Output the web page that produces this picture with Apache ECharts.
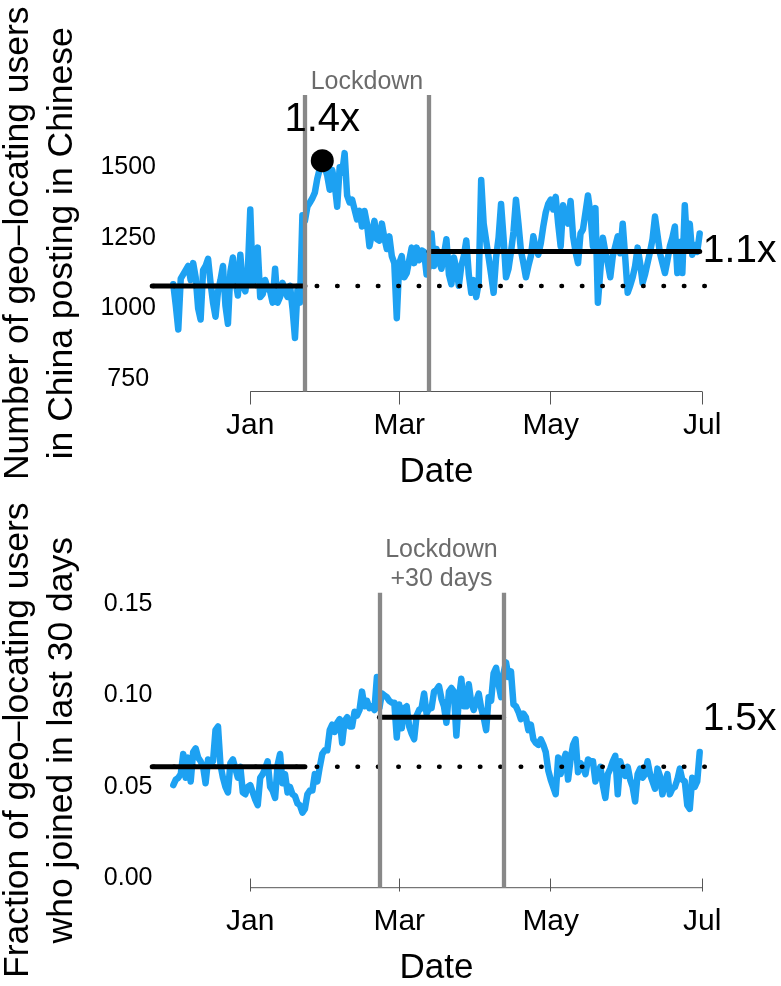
<!DOCTYPE html>
<html><head><meta charset="utf-8">
<script src="https://cdn.jsdelivr.net/npm/echarts@6/dist/echarts.min.js"></script>
<style>html,body{margin:0;padding:0;background:#fff}#c{width:781px;height:986px}</style>
</head><body><div id="c"></div>
<script>
// ---------------- data ----------------
const startDate = '2019-12-01';            // first daily value, one value per day
const topValues = [
 1085,1010,925,1105,1120,1135,1150,1100,1160,1110,1000,960,1135,1150,1175,1090,1020,970,1060,1100,1150,1010,945,1130,1180,1100,1045,1190,1080,1060,1130,
 1350,1090,1120,1215,1040,1050,1100,1070,1060,1020,1140,1020,1040,1090,1060,1040,1080,1000,895,1065,1020,1330,1310,1360,1375,1390,1410,1460,1495,1530,1500,
 1470,1420,1490,1440,1360,1500,1480,1550,1400,1375,1385,1350,1315,1345,1290,1345,1300,1220,1265,1310,1245,1240,1300,1250,1210,1255,1185,1160,965,
 1160,1185,1110,1125,1170,1215,1160,1215,1170,1205,1200,1120,
 1150,1265,1150,1210,1170,1140,1190,1245,1120,1085,
 1180,1140,1080,1150,1185,1240,1120,1055,1100,1040,
 1090,1455,1300,1240,1180,1120,1055,1180,1250,1370,
 1250,1110,1140,1200,1270,1385,1300,1205,1160,1110,
 1150,1185,1255,1210,1190,1230,1290,1340,1370,1385,
 1350,1395,1300,1220,1365,1320,1300,1380,1255,1200,
 1160,1265,1280,1340,1400,1335,1220,1355,1020,1135,
 1250,1200,1160,1110,1185,1220,1255,1195,1300,1180,
 1055,1080,1110,1150,1215,1160,1090,1120,1160,1200,
 1245,1325,1260,1195,1160,1125,1170,1220,1250,1290,
 1125,1235,1125,1365,1210,1300,1190,1225,1200,1265
];
const bottomValues = [
 0.051,0.054,0.055,0.057,0.068,0.055,0.066,0.053,0.069,0.071,
 0.066,0.064,0.061,0.052,0.065,0.063,0.064,0.081,0.083,0.062,
 0.055,0.050,0.047,0.063,0.065,0.060,0.055,0.061,0.047,0.046,
 0.050,0.051,0.047,0.043,0.040,0.055,0.057,0.060,0.064,0.050,
 0.048,0.044,0.062,0.068,0.052,0.057,0.047,0.050,0.046,0.045,
 0.041,0.040,0.036,0.038,0.046,0.048,0.048,0.057,0.053,0.061,
 0.068,0.070,0.070,0.081,0.084,0.080,0.085,0.087,0.074,0.086,
 0.088,0.083,0.083,0.091,0.089,0.092,0.102,0.094,0.097,0.093,
 0.094,0.092,0.110,0.093,0.101,0.100,0.099,0.097,0.096,0.096,
 0.077,0.095,0.082,0.093,0.094,0.083,0.079,0.076,0.089,0.092,
 0.093,0.101,0.090,0.093,0.093,0.102,0.103,0.105,0.098,0.094,
 0.085,0.102,0.104,0.102,0.078,0.098,0.109,0.094,0.094,0.106,
 0.096,0.092,0.097,0.101,0.093,0.088,0.081,0.099,0.097,0.112,
 0.115,0.106,0.099,0.112,0.118,0.110,0.113,0.095,0.094,0.091,
 0.087,0.090,0.088,0.081,0.084,0.076,0.074,0.073,0.076,0.073,
 0.069,0.059,0.054,0.050,0.046,0.066,0.057,0.064,0.068,0.054,
 0.065,0.073,0.076,0.058,0.063,0.061,0.057,0.065,0.064,0.064,
 0.053,0.058,0.061,0.051,0.044,0.057,0.060,0.064,0.067,0.046,
 0.064,0.059,0.056,0.061,0.054,0.050,0.042,0.057,0.060,0.055,
 0.057,0.064,0.057,0.053,0.049,0.060,0.056,0.046,0.052,0.057,
 0.046,0.049,0.050,0.054,0.060,0.054,0.053,0.040,0.038,0.055,
 0.050,0.053,0.069
];
const monthTicks  = ['2020-01-01','2020-03-01','2020-05-01','2020-07-01'];
const monthLabels = ['Jan','Mar','May','Jul'];
const lockdown    = ['2020-01-23','2020-03-13'];
const lockdown30  = ['2020-02-22','2020-04-12'];
const topYTicks    = [750, 1000, 1250, 1500];
const bottomYTicks = [0.00, 0.05, 0.10, 0.15];
const topYRange    = [705, 1756];
const bottomYRange = [-0.005, 0.156];
const xRange = ['2019-11-22T12:00:00Z', '2020-07-08T12:00:00Z'];
const topPreMean = 1079, topPostMean = 1201;
const topPeak = ['2020-01-30', 1523];
const bottomPreMean = 0.061, bottomMidMean = 0.088;
const labelPeak = '1.4x', labelPost = '1.1x', labelBottom = '1.5x';
const topYTitle = 'Number of geo\u2013locating users\nin China posting in Chinese';
const bottomYTitle = 'Fraction of geo\u2013locating users\nwho joined in last 30 days';
const lockdownText = 'Lockdown', lockdown30Text = 'Lockdown\n+30 days';

// ---------------- chart ----------------
const DAY = 86400000;
const t = s => Date.parse(s.length === 10 ? s + 'T00:00:00Z' : s);
const dates = topValues.map((_, i) => t(startDate) + i * DAY);
const lastDate = dates[dates.length - 1];
const xMin = t(xRange[0]), xMax = t(xRange[1]);
const tickTimes = monthTicks.map(t);
const FONT = '"Liberation Sans", Arial, Helvetica, sans-serif';
const BLUE = '#1DA1F2', GREY = '#888888';

function xAxisCfg(gridIndex) {
  return {
    type: 'value', gridIndex, min: xMin, max: xMax, scale: true,
    axisLine: { show: false }, splitLine: { show: false },
    axisTick: { show: true, customValues: tickTimes, length: 13, lineStyle: { color: '#555', width: 1 } },
    axisLabel: {
      customValues: tickTimes, margin: 34, fontSize: 30, color: '#000', fontFamily: FONT, verticalAlign: 'middle',
      formatter: v => { const i = tickTimes.findIndex(x => Math.abs(x - v) < DAY / 2); return i >= 0 ? monthLabels[i] : ''; }
    },
    name: 'Date', nameLocation: 'middle', nameGap: 80.5,
    nameTextStyle: { fontSize: 35, color: '#000', fontFamily: FONT, verticalAlign: 'middle' }
  };
}
function yAxisCfg(gridIndex, range, ticks, title, fmt) {
  return {
    type: 'value', gridIndex, min: range[0], max: range[1],
    axisLine: { show: false }, axisTick: { show: false }, splitLine: { show: false },
    axisLabel: { customValues: ticks, formatter: fmt, align: 'center', margin: 24, fontSize: 25, color: '#000', fontFamily: FONT },
    name: title, nameLocation: 'middle', nameRotate: 90, nameGap: 111.5,
    nameTextStyle: { fontSize: 35.5, lineHeight: 44, color: '#000', fontFamily: FONT, align: 'center', verticalAlign: 'middle' }
  };
}
function seg(gi, pts, style, extra) {
  return Object.assign({
    type: 'line', xAxisIndex: gi, yAxisIndex: gi, data: pts, symbol: 'none', silent: true,
    lineStyle: style, z: 4
  }, extra || {});
}
function lockSeries(gi, range, text, lh, dist) {
  return {
    type: 'line', xAxisIndex: gi, yAxisIndex: gi, data: [], silent: true, z: 3,
    markLine: {
      symbol: ['none', 'none'], silent: true, animation: false,
      label: { show: false },
      lineStyle: { color: GREY, width: 4.3, type: 'solid', opacity: 1 },
      data: [{ xAxis: t(range[0]) }, { xAxis: t(range[1]) }]
    },
    markArea: {
      silent: true, itemStyle: { color: 'rgba(0,0,0,0)' },
      label: { show: true, position: 'top', formatter: text, color: '#6b6b6b', fontSize: 25, lineHeight: lh, distance: dist, fontFamily: FONT },
      data: [[{ xAxis: t(range[0]) }, { xAxis: t(range[1]) }]]
    }
  };
}
const dotStyle = { color: '#000', width: 4.5, type: [0.5, 19.9], cap: 'round', dashOffset: -1.3 };
const meanStyle = { color: '#000', width: 5, cap: 'round' };
const axisStyle = { color: '#555', width: 1 };
const bigLabel = { color: '#000', fontFamily: FONT, fontSize: 39, opacity: 1 };

const option = {
  animation: false,
  textStyle: { fontFamily: FONT },
  grid: [
    { left: 152.2, right: 60.2, top: 95, height: 296.5, outerBoundsMode: 'none', containLabel: false },
    { left: 152.2, right: 60.2, top: 592.7, height: 295, outerBoundsMode: 'none', containLabel: false }
  ],
  xAxis: [xAxisCfg(0), xAxisCfg(1)],
  yAxis: [
    yAxisCfg(0, topYRange, topYTicks, topYTitle, v => String(v)),
    yAxisCfg(1, bottomYRange, bottomYTicks, bottomYTitle, v => Number(v).toFixed(2))
  ],
  series: [
    // top panel
    { type: 'line', xAxisIndex: 0, yAxisIndex: 0, data: dates.map((d, i) => [d, topValues[i]]), symbol: 'none', silent: true,
      lineStyle: { color: BLUE, width: 6.5, join: 'round', cap: 'round' }, z: 2 },
    lockSeries(0, lockdown, lockdownText, 24, 1),
    seg(0, [[xMin, topPreMean], [xMax, topPreMean]], dotStyle),
    seg(0, [[xMin, topPreMean], [t(lockdown[0]), topPreMean]], meanStyle),
    seg(0, [[t(lockdown[1]), topPostMean], [lastDate, topPostMean]], meanStyle,
      { endLabel: Object.assign({ show: true, formatter: labelPost, distance: 3 }, bigLabel) }),
    { type: 'scatter', xAxisIndex: 0, yAxisIndex: 0, data: [[t(topPeak[0]), topPeak[1]]], symbolSize: 23, silent: true, z: 5,
      itemStyle: { color: '#000', opacity: 1 },
      label: Object.assign({ show: true, position: 'top', distance: 9, formatter: labelPeak }, bigLabel, { fontSize: 40 }) },
    seg(0, [[tickTimes[0], topYRange[0]], [tickTimes[tickTimes.length - 1], topYRange[0]]], axisStyle, { clip: false }),
    // bottom panel
    { type: 'line', xAxisIndex: 1, yAxisIndex: 1, data: dates.map((d, i) => [d, bottomValues[i]]), symbol: 'none', silent: true,
      lineStyle: { color: BLUE, width: 6.5, join: 'round', cap: 'round' }, z: 2 },
    lockSeries(1, lockdown30, lockdown30Text, 29, -1),
    seg(1, [[xMin, bottomPreMean], [xMax, bottomPreMean]], dotStyle),
    seg(1, [[xMin, bottomPreMean], [t(lockdown[0]), bottomPreMean]], meanStyle),
    seg(1, [[t(lockdown30[0]), bottomMidMean], [t(lockdown30[1]), bottomMidMean]], meanStyle),
    { type: 'scatter', xAxisIndex: 1, yAxisIndex: 1, data: [[lastDate, bottomMidMean]], symbolSize: 0, silent: true, z: 5,
      itemStyle: { opacity: 1 },
      label: Object.assign({ show: true, position: 'right', distance: 3, offset: [0, 1.5], formatter: labelBottom }, bigLabel) },
    seg(1, [[tickTimes[0], bottomYRange[0]], [tickTimes[tickTimes.length - 1], bottomYRange[0]]], axisStyle, { clip: false })
  ]
};
const chart = echarts.init(document.getElementById('c'), null, { renderer: 'canvas' });
chart.setOption(option);
</script>
</body></html>
